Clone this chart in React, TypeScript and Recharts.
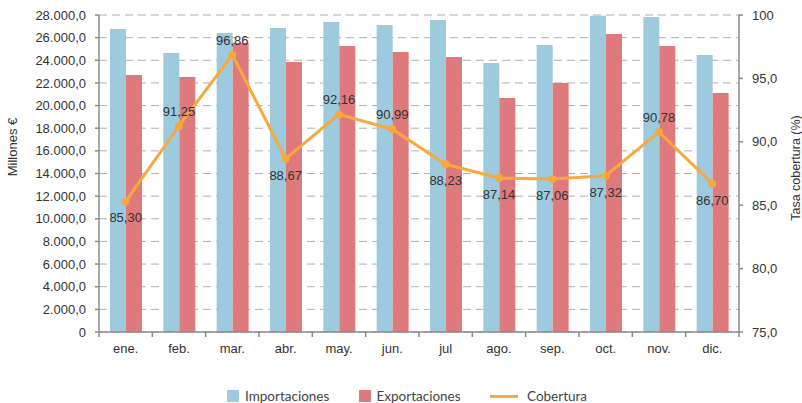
import React from 'react';
import { ComposedChart, Bar, Line, XAxis, YAxis, CartesianGrid, LabelList } from 'recharts';

// Months on the category axis
const months = ['ene.', 'feb.', 'mar.', 'abr.', 'may.', 'jun.', 'jul', 'ago.', 'sep.', 'oct.', 'nov.', 'dic.'];

// Millones € per month
const importaciones = [26760, 24640, 26410, 26850, 27380, 27120, 27560, 23760, 25350, 27930, 27820, 24470];
const exportaciones = [22700, 22520, 25550, 23850, 25260, 24730, 24290, 20670, 21990, 26320, 25260, 21110];

// Tasa cobertura (%)
const cobertura = [85.3, 91.25, 96.86, 88.67, 92.16, 90.99, 88.23, 87.14, 87.06, 87.32, 90.78, 86.7];

const leftTicks = [0, 2000, 4000, 6000, 8000, 10000, 12000, 14000, 16000, 18000, 20000, 22000, 24000, 26000, 28000];
const rightTicks = [75, 80, 85, 90, 95, 100];

// which side of the point the coverage label sits on
const labelSide = ['below', 'above', 'above', 'below', 'above', 'above', 'below', 'below', 'below', 'below', 'above', 'below'];

const FONT = '"Liberation Sans", Arial, Helvetica, sans-serif';
const LEGEND_FONT = 'Lato, "Open Sans", sans-serif';
const BLUE = '#9dcbdd';
const RED = '#de7a7c';
const ORANGE = '#f7a83e';
const AXIS = '#8a8a8a';

const data = months.map((m, i) => ({
  month: m,
  imp: importaciones[i],
  exp: exportaciones[i],
  cob: cobertura[i],
}));

const fmtLeft = (v: number) =>
  v === 0 ? '0' : String(v).replace(/\B(?=(\d{3})+(?!\d))/g, '.') + ',0';

const fmtRight = (v: number) => (v === 100 ? '100' : v.toFixed(1).replace('.', ','));

const MonthTick = (props: any) => {
  const { x, y, payload, index } = props;
  const half = payload && payload.offset ? payload.offset : 26.67;
  const axisY = y - 12;
  return (
    <g>
      <line x1={x - half} x2={x - half} y1={axisY} y2={axisY + 5} stroke={AXIS} strokeWidth={1.5} />
      {index === months.length - 1 && (
        <line x1={x + half} x2={x + half} y1={axisY} y2={axisY + 5} stroke={AXIS} strokeWidth={1.5} />
      )}
      <text x={x} y={y} dy="0.71em" textAnchor="middle" fontSize={13} fill="#333" fontFamily={FONT}>
        {payload.value}
      </text>
    </g>
  );
};

const CoverageLabel = (props: any) => {
  const { x, y, value, index } = props;
  const below = labelSide[index] === 'below';
  return (
    <text
      x={x}
      y={below ? y + 21 : y - 10}
      textAnchor="middle"
      fontSize={13}
      fill="#333"
      fontFamily={FONT}
    >
      {Number(value).toFixed(2).replace('.', ',')}
    </text>
  );
};

const legendItems = [
  { name: 'Importaciones', color: BLUE, kind: 'box' },
  { name: 'Exportaciones', color: RED, kind: 'box' },
  { name: 'Cobertura', color: ORANGE, kind: 'line' },
];

const App: React.FC = () => {
  return (
    <div style={{ position: 'absolute', left: 0, top: 0, width: 802, height: 403, background: '#fff' }}>
      <ComposedChart
        width={802}
        height={403}
        data={data}
        margin={{ top: 15, right: 0, bottom: 41, left: 0 }}
        barGap={0}
      >
        <CartesianGrid yAxisId="left" vertical={false} stroke="#b0b0b0" strokeDasharray="8 5" />
        <XAxis
          dataKey="month"
          height={30}
          tickLine={false}
          tickSize={5}
          tickMargin={7}
          stroke={AXIS}
          strokeWidth={1.5}
          interval={0}
          tick={<MonthTick />}
        />
        <YAxis
          yAxisId="left"
          width={99}
          domain={[0, 28000]}
          ticks={leftTicks}
          interval={0}
          tickFormatter={fmtLeft}
          tickSize={4}
          tickMargin={9}
          stroke={AXIS}
          strokeWidth={1.5}
          tick={{ fontSize: 13, fill: '#333', fontFamily: FONT }}
          label={() => (
            <text x={17} y={147} transform="rotate(-90 17 147)" textAnchor="middle" fontSize={13} fill="#333" fontFamily={FONT}>
              Millones €
            </text>
          )}
        />
        <YAxis
          yAxisId="right"
          orientation="right"
          width={63}
          domain={[75, 100]}
          ticks={rightTicks}
          interval={0}
          tickFormatter={fmtRight}
          tickSize={4}
          tickMargin={9}
          stroke={AXIS}
          strokeWidth={1.5}
          tick={{ fontSize: 13, fill: '#333', fontFamily: FONT }}
          label={() => (
            <text x={800} y={168} transform="rotate(-90 800 168)" textAnchor="middle" fontSize={12.5} fill="#333" fontFamily={FONT}>
              Tasa cobertura (%)
            </text>
          )}
        />
        <Bar yAxisId="left" dataKey="imp" fill={BLUE} barSize={16} isAnimationActive={false} />
        <Bar yAxisId="left" dataKey="exp" fill={RED} barSize={16} isAnimationActive={false} />
        <Line
          yAxisId="right"
          dataKey="cob"
          stroke={ORANGE}
          strokeWidth={3}
          dot={{ r: 4, fill: ORANGE, stroke: ORANGE, strokeWidth: 0 }}
          activeDot={false}
          isAnimationActive={false}
        >
          <LabelList dataKey="cob" content={<CoverageLabel />} />
        </Line>
      </ComposedChart>

      {/* legend */}
      <div style={{ position: 'absolute', left: 227, top: 386, display: 'flex', fontFamily: LEGEND_FONT, fontSize: 13.5, color: '#444' }}>
        {legendItems.map((item) => (
          <div key={item.name} style={{ width: 131.5, display: 'flex', alignItems: 'center', height: 20 }}>
            {item.kind === 'box' ? (
              <span style={{ display: 'inline-block', width: 12, height: 12, background: item.color, marginRight: 6 }} />
            ) : (
              <span style={{ display: 'inline-block', width: 28, height: 3, background: item.color, marginRight: 9 }} />
            )}
            <span>{item.name}</span>
          </div>
        ))}
      </div>
    </div>
  );
};

export default App;
